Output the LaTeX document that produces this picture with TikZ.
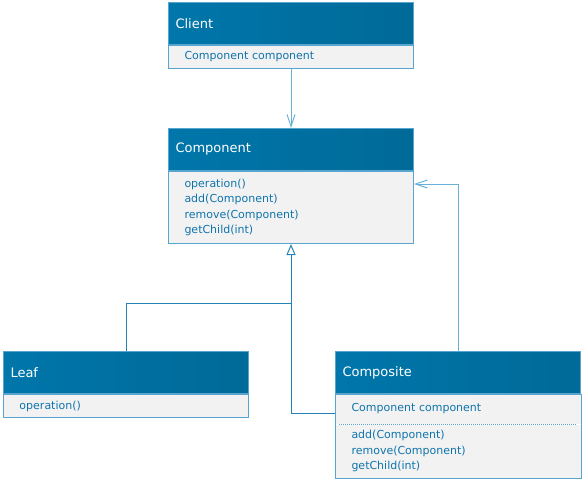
\documentclass[tikz,border=0pt]{standalone}
\usepackage{fontspec}
\setmainfont{DejaVu Sans}
\usetikzlibrary{positioning,arrows.meta}
\definecolor{hdrleft}{RGB}{0,118,170}
\definecolor{hdrmid}{RGB}{0,138,196}
\definecolor{hdrright}{RGB}{0,106,152}
\definecolor{boxline}{RGB}{88,166,208}
\definecolor{boxfill}{RGB}{242,242,242}
\definecolor{membertext}{RGB}{16,116,172}
\definecolor{genline}{RGB}{36,132,186}
\definecolor{assocline}{RGB}{104,178,218}
\tikzset{
  classhead/.style={anchor=north west, draw=boxline, line width=1pt,
    left color=hdrleft, middle color=hdrmid, right color=hdrright,
    minimum width=245pt, minimum height=42pt, text width=231pt, inner xsep=7pt,
    align=left, text=white, font=\fontsize{13}{15}\selectfont},
  classbody/.style={draw=boxline, line width=1pt, fill=boxfill,
    minimum width=245pt, text width=213pt, inner xsep=16pt, inner ysep=2pt,
    align=left, text=membertext, font=\fontsize{11}{15.5}\selectfont},
  genconn/.style={draw=genline, line width=1pt},
  inherit/.style={genconn, -{Triangle[open, length=11pt, width=9pt]}},
  assoc/.style={draw=assocline, line width=1pt, -{Straight Barb[length=12pt, width=8pt]}}
}
\begin{document}
\begin{tikzpicture}[x=1pt,y=-1pt]
  \useasboundingbox (0,0) rectangle (582,479);
  % classes
  \node[classhead] (clientHead) at (168,2) {Client};
  \node[classbody, minimum height=23pt, below=0pt of clientHead] (clientBody) {Component component};
  \node[classhead] (componentHead) at (168,128) {Component};
  \node[classbody, minimum height=72pt, below=0pt of componentHead] (componentBody)
    {operation()\\add(Component)\\remove(Component)\\getChild(int)};
  \node[classhead] (leafHead) at (3,351) {Leaf};
  \node[classbody, minimum height=23pt, below=0pt of leafHead] (leafBody) {operation()};
  \node[classhead] (compositeHead) at (335,351) {Composite};
  \node[classbody, draw=none, minimum height=29pt, below=0pt of compositeHead] (compositeAttr) {Component component};
  \node[classbody, draw=none, minimum height=53pt, below=0pt of compositeAttr] (compositeOps)
    {add(Component)\\remove(Component)\\getChild(int)};
  \draw[boxline, line width=1pt] (compositeAttr.north west) rectangle (compositeOps.south east);
  \draw[boxline, line width=1pt, dash pattern=on 1pt off 1pt]
    ([xshift=4pt]compositeOps.north west) -- ([xshift=-4pt]compositeOps.north east);
  % connectors
  \coordinate (leafJoin) at (componentBody.south |- 0,303);
  \coordinate (compositeIn) at (compositeHead.west |- 0,413);
  \coordinate (componentIn) at (componentBody.east |- 0,184);
  \draw[assoc] (clientBody) -- (componentHead);
  \draw[genconn] (leafHead.north) |- (leafJoin);
  \draw[inherit] (compositeIn) -| (componentBody.south);
  \draw[assoc] (compositeHead.north) |- (componentIn);
\end{tikzpicture}
\end{document}
